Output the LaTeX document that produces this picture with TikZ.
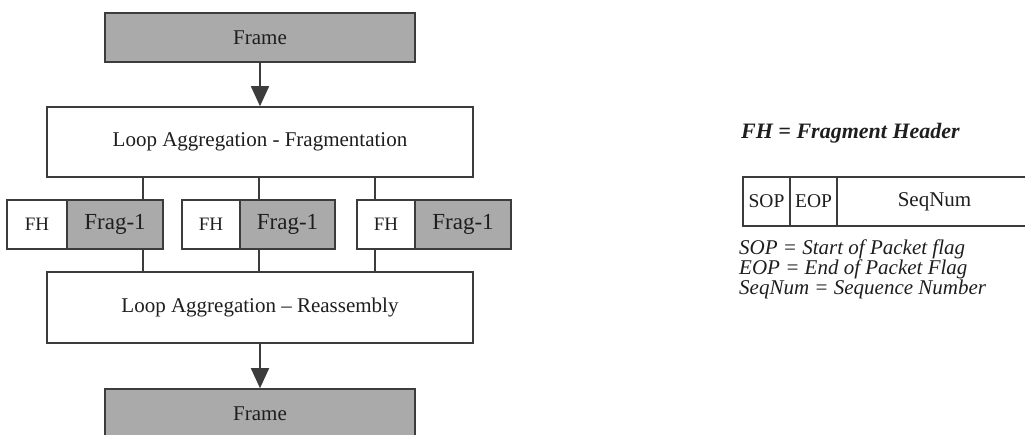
\documentclass[tikz,border=0pt]{standalone}
\usepackage{fontspec}
\setmainfont{Liberation Serif}
\usetikzlibrary{arrows.meta}
\definecolor{boxline}{HTML}{3C3C3C}
\definecolor{boxfill}{HTML}{AAAAAA}
\definecolor{ink}{HTML}{1E1E1E}
\tikzset{
  blk/.style={draw=boxline, line width=1.5pt, inner sep=0pt, text=ink,
              font=\fontsize{21}{24}\selectfont},
  greybox/.style={blk, fill=boxfill},
  whitebox/.style={blk, fill=white},
  fragtxt/.style={font=\fontsize{23}{26}\selectfont},
  hdrtxt/.style={font=\fontsize{19}{22}\selectfont},
  celltxt/.style={font=\fontsize{19.5}{22}\selectfont},
  conn/.style={draw=boxline, line width=1.5pt},
  flow/.style={conn, -{Triangle[width=18pt,length=20pt]}},
  legend/.style={anchor=base west, inner sep=0pt, text=ink,
                 font=\fontsize{21}{23}\selectfont\itshape},
}
\begin{document}
\begin{tikzpicture}[x=1pt,y=-1pt]
\useasboundingbox (0,0) rectangle (1025,435);
\clip (0,0) rectangle (1025,435);

% main flow
\node[greybox, minimum width=310, minimum height=49] (top) at (260,37.5) {Frame};
\node[whitebox, minimum width=426, minimum height=70] (frag) at (260,142) {Loop Aggregation - Fragmentation};

% fragments: header + payload
\node[whitebox, hdrtxt, minimum width=60, minimum height=49] (fh1) at (37,224.5) {FH};
\node[greybox, fragtxt, minimum width=96, minimum height=49] (f1) at (115,224.5) {Frag-1};
\node[whitebox, hdrtxt, minimum width=58, minimum height=49] (fh2) at (211,224.5) {FH};
\node[greybox, fragtxt, minimum width=95, minimum height=49] (f2) at (287.5,224.5) {Frag-1};
\node[whitebox, hdrtxt, minimum width=58, minimum height=49] (fh3) at (386,224.5) {FH};
\node[greybox, fragtxt, minimum width=96, minimum height=49] (f3) at (463,224.5) {Frag-1};

\node[whitebox, minimum width=426, minimum height=71] (reas) at (260,307.5) {Loop Aggregation -- Reassembly};
\node[greybox, minimum width=310, minimum height=50] (bot) at (260,414) {Frame};

\draw[flow] (top) -- (frag);
\draw[flow] (reas) -- (bot);

% branch positions
\coordinate (c1) at (143,0);
\coordinate (c2) at (259,0);
\coordinate (c3) at (375,0);
\draw[conn] (frag.south -| c1) -- (c1 |- f1.north);
\draw[conn] (frag.south -| c2) -- (c2 |- f2.north);
\draw[conn] (frag.south -| c3) -- (c3 |- fh3.north);
\draw[conn] (f1.south -| c1) -- (c1 |- reas.north);
\draw[conn] (f2.south -| c2) -- (c2 |- reas.north);
\draw[conn] (fh3.south -| c3) -- (c3 |- reas.north);

% fragment header layout
\node[anchor=base west, inner sep=0pt, text=ink,
      font=\fontsize{22}{24}\selectfont\bfseries\itshape] (title) at (741,139) {FH = Fragment Header};
\node[whitebox, celltxt, minimum width=47, minimum height=49] (sop) at (766.5,201.5) {SOP};
\node[whitebox, celltxt, minimum width=47, minimum height=49] (eop) at (813.5,201.5) {EOP};
\node[whitebox, font=\fontsize{21}{24}\selectfont, minimum width=195, minimum height=49] (seq) at (934.5,201.5) {SeqNum};

\node[legend] (l1) at (739,255) {SOP = Start of Packet flag};
\node[legend] (l2) at (739,275) {EOP = End of Packet Flag};
\node[legend] (l3) at (739,295) {SeqNum = Sequence Number};
\end{tikzpicture}
\end{document}
